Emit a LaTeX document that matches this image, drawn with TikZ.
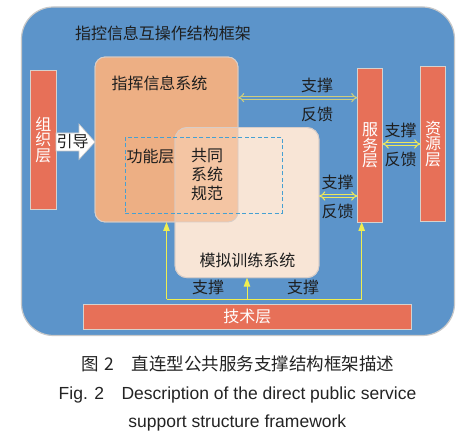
\documentclass[tikz,border=0pt]{standalone}
\usepackage{fontspec}
\setmainfont{Noto Sans CJK SC}
\newfontfamily\latfont{Liberation Sans}
\usetikzlibrary{arrows.meta,calc}
\definecolor{framebg}{RGB}{92,148,202}
\definecolor{frameborder}{RGB}{200,200,200}
\definecolor{barred}{RGB}{231,112,88}
\definecolor{barborder}{RGB}{215,210,205}
\definecolor{cmdc}{RGB}{237,175,132}
\definecolor{simc}{RGB}{248,229,214}
\definecolor{overlapc}{RGB}{244,197,163}
\definecolor{boxborder}{RGB}{215,205,200}
\definecolor{dashc}{RGB}{70,160,210}
\definecolor{txtdark}{RGB}{30,30,30}
\definecolor{lineyellow}{RGB}{240,238,80}
\definecolor{arrowyellow}{RGB}{238,232,90}
\definecolor{arrowkhaki}{RGB}{205,205,125}
\definecolor{captc}{RGB}{35,35,35}
\begin{document}
\begin{tikzpicture}[x=1pt,y=-1pt,
  bar/.style={fill=barred, draw=barborder, line width=0.8pt, inner sep=0pt, outer sep=0pt,
    text=white, font=\fontsize{16}{15.5}\selectfont, align=center},
  sysbox/.style={draw=boxborder, line width=0.8pt, inner sep=0pt, outer sep=0pt},
  lbl/.style={text=txtdark, font=\fontsize{16}{16}\selectfont, inner sep=0pt},
  dblarrow/.style={draw=arrowyellow, double=framebg, double distance=2pt, line width=1.1pt, {Implies}-{Implies}},
  yline/.style={draw=lineyellow, line width=1pt},
  yarrow/.style={yline, -{Triangle[length=9pt,width=6.5pt]}},
  captzh/.style={text=captc, font=\fontsize{17.5}{17.5}\selectfont, inner sep=0pt},
  capten/.style={text=captc, font=\latfont\fontsize{17.5}{17.5}\selectfont, inner sep=0pt}
]
\fill[white] (0,0) rectangle (467,436);
\useasboundingbox (0,0) rectangle (467,436);

% outer frame
\node[fill=framebg, draw=frameborder, line width=1.2pt, rounded corners=32pt,
  minimum width=433pt, minimum height=328.5pt, inner sep=0pt] (frame) at (238,171.25) {};
\node[lbl] (title) at (163,33) {指控信息互操作结构框架};

% system boxes
\node[sysbox, fill=cmdc, rounded corners=10pt, minimum width=143pt, minimum height=165pt] (cmd) at (166.5,139.5) {};
\node[sysbox, fill=simc, rounded corners=12pt, minimum width=144pt, minimum height=150.2pt] (sim) at (247,202.6) {};
\begin{scope}
  \clip[rounded corners=12pt] (sim.north west) rectangle (sim.south east);
  \fill[overlapc, rounded corners=10pt] (cmd.north west) rectangle (cmd.south east);
\end{scope}
\draw[boxborder, line width=0.8pt, rounded corners=10pt] (cmd.north west) rectangle (cmd.south east);
\draw[boxborder, line width=0.8pt, rounded corners=12pt] (sim.north west) rectangle (sim.south east);

\node[draw=dashc, dashed, line width=0.8pt, dash pattern=on 4pt off 2.5pt, inner sep=0pt,
  minimum width=157pt, minimum height=76.3pt] (func) at (203.5,175.15) {};

\node[lbl] (cmdlbl) at (159.5,83) {指挥信息系统};
\node[lbl] (funclbl) at (150.5,156) {功能层};
\node[lbl, align=center, font=\fontsize{16}{19}\selectfont] (normlbl) at (207,174) {共同\\系统\\规范};
\node[lbl] (simlbl) at (247.5,260) {模拟训练系统};

% bars
\node[bar, minimum width=25.5pt, minimum height=139pt] (org) at (43.25,139.5) {组\\织\\层};
\node[bar, minimum width=25pt, minimum height=153.3pt] (svc) at (370,145.35) {服\\务\\层};
\node[bar, minimum width=25pt, minimum height=154.5pt] (res) at (433,143.75) {资\\源\\层};
\node[bar, minimum width=328.5pt, minimum height=25pt] (tech) at (247.25,316.8) {技术层};

% guide arrow
\coordinate (yG) at (0,142);
\draw[fill=white, draw=frameborder, line width=0.6pt]
  (org.east |- yG) ++(0,-9) -- ++(23,0) -- ++(0,-9) -- (cmd.west |- yG)
  -- ++(-16,17.5) -- ++(0,-8.5) -- ++(-23,0) -- cycle;
\node[lbl] (guidelbl) at (72.5,142) {引导};

% double arrows
\coordinate (yTop) at (0,97.7);
\coordinate (yMid) at (0,144);
\coordinate (yLow) at (0,196);
\draw[dblarrow, draw=arrowkhaki] (cmd.east |- yTop) -- (svc.west |- yTop);
\draw[dblarrow] (svc.east |- yMid) -- (res.west |- yMid);
\draw[dblarrow] (sim.east |- yLow) -- (svc.west |- yLow);
\node[lbl] (s1) at (317,85) {支撑};
\node[lbl] (f1) at (317,114.5) {反馈};
\node[lbl] (s2) at (400.5,130) {支撑};
\node[lbl] (f2) at (400.5,159) {反馈};
\node[lbl] (s3) at (337.7,182) {支撑};
\node[lbl] (f3) at (337.7,211.7) {反馈};

% support lines from technology layer
\coordinate (jL) at (166.5,299.3);
\coordinate (jR) at (361.7,299.3);
\draw[yline] (jL) -- (jR);
\draw[yarrow] (jL) -- (cmd.south -| jL);
\draw[yarrow] (jR) -- (svc.south -| jR);
\draw[yarrow] (sim.south |- jL) -- (sim.south);
\node[lbl] (s4) at (208,287.5) {支撑};
\node[lbl] (s5) at (303,287.5) {支撑};

% caption
\node[captzh] (capzh) at (238,363.5) {图\hspace{0.3em}2\hspace{1em}直连型公共服务支撑结构框架描述};
\node[capten, anchor=base] (capen1) at (237.5,399.3) {Fig. 2\hspace{1em}Description of the direct public service};
\node[capten, anchor=base] (capen2) at (237.3,427.3) {support structure framework};
\end{tikzpicture}
\end{document}
